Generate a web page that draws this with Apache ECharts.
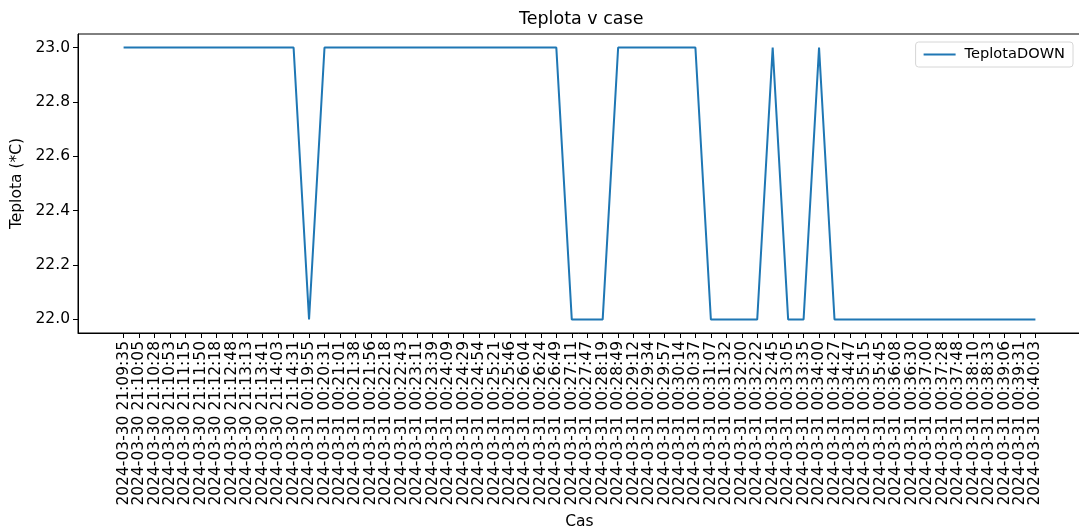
<!DOCTYPE html>
<html>
<head>
<meta charset="utf-8">
<title>Teplota v case</title>
<script src="https://cdn.jsdelivr.net/npm/echarts@6/dist/echarts.min.js"></script>
<style>
    html,body{margin:0;padding:0;background:#fff;overflow:hidden;}
    #teplota{width:1079px;height:532px;}
</style>
</head>
<body>
<div id="teplota"></div>
<script>
    // casy mereni (osa x)
    var casy = [
        '2024-03-30 21:09:35','2024-03-30 21:10:05','2024-03-30 21:10:28','2024-03-30 21:10:53',
        '2024-03-30 21:11:15','2024-03-30 21:11:50','2024-03-30 21:12:18','2024-03-30 21:12:48',
        '2024-03-30 21:13:13','2024-03-30 21:13:41','2024-03-30 21:14:03','2024-03-30 21:14:31',
        '2024-03-31 00:19:55','2024-03-31 00:20:31','2024-03-31 00:21:01','2024-03-31 00:21:38',
        '2024-03-31 00:21:56','2024-03-31 00:22:18','2024-03-31 00:22:43','2024-03-31 00:23:11',
        '2024-03-31 00:23:39','2024-03-31 00:24:09','2024-03-31 00:24:29','2024-03-31 00:24:54',
        '2024-03-31 00:25:21','2024-03-31 00:25:46','2024-03-31 00:26:04','2024-03-31 00:26:24',
        '2024-03-31 00:26:49','2024-03-31 00:27:11','2024-03-31 00:27:47','2024-03-31 00:28:19',
        '2024-03-31 00:28:49','2024-03-31 00:29:12','2024-03-31 00:29:34','2024-03-31 00:29:57',
        '2024-03-31 00:30:14','2024-03-31 00:30:37','2024-03-31 00:31:07','2024-03-31 00:31:32',
        '2024-03-31 00:32:00','2024-03-31 00:32:22','2024-03-31 00:32:45','2024-03-31 00:33:05',
        '2024-03-31 00:33:35','2024-03-31 00:34:00','2024-03-31 00:34:27','2024-03-31 00:34:47',
        '2024-03-31 00:35:15','2024-03-31 00:35:45','2024-03-31 00:36:08','2024-03-31 00:36:30',
        '2024-03-31 00:37:00','2024-03-31 00:37:28','2024-03-31 00:37:48','2024-03-31 00:38:10',
        '2024-03-31 00:38:33','2024-03-31 00:39:06','2024-03-31 00:39:31','2024-03-31 00:40:03'
    ];

    // TeplotaDOWN (*C)
    var teplotaDown = [
        23,23,23,23,23,23,23,23,23,23,23,23,
        22,23,23,23,23,23,23,23,23,23,23,23,23,23,23,23,23,
        22,22,22,
        23,23,23,23,23,23,
        22,22,22,22,
        23,
        22,22,
        23,
        22,22,22,22,22,22,22,22,22,22,22,22,22,22
    ];

    var yTicks = [22.0, 22.2, 22.4, 22.6, 22.8, 23.0];

    var font = 'DejaVu Sans';
    var xIdx = casy.map(function(c, i){ return i; });
    // prazdne popisky na krajich, aby echarts neschovaval sousedni popisky
    var xLabelVals = [-2].concat(xIdx, [61]);

    var chart = echarts.init(document.getElementById('teplota'));
    chart.setOption({
        animation: false,
        textStyle: {fontFamily: font},
        title: {
            text: 'Teplota v case',
            left: 514,
            top: 5,
            textStyle: {fontFamily: font, fontSize: 17.5, fontWeight: 'normal', color: '#000'}
        },
        legend: {
            right: 6,
            top: 42,
            padding: [5, 8],
            borderColor: '#d6d6d6',
            borderWidth: 1,
            borderRadius: 3,
            icon: 'rect',
            itemWidth: 32,
            itemHeight: 2,
            itemGap: 10,
            textStyle: {fontFamily: font, fontSize: 14.6, color: '#000', padding: [0, 0, 0, 4]},
            data: ['TeplotaDOWN']
        },
        grid: {
            left: 78,
            top: 34,
            width: 1003,
            height: 299,
            outerBoundsMode: 'none',
            show: true,
            borderColor: '#000',
            borderWidth: 1
        },
        xAxis: {
            type: 'value',
            min: -2.95,
            max: 61.95,
            name: 'Cas',
            nameLocation: 'middle',
            nameGap: 177,
            nameTextStyle: {fontFamily: font, fontSize: 15.5, color: '#000'},
            splitLine: {show: false},
            axisLine: {show: true, lineStyle: {color: '#000', width: 1}},
            axisTick: {show: true, length: 5, customValues: xIdx, lineStyle: {color: '#000', width: 1}},
            axisLabel: {
                customValues: xLabelVals,
                rotate: 90,
                margin: 8,
                hideOverlap: false,
                fontFamily: font,
                fontSize: 15.5,
                color: '#000',
                formatter: function(v){ return casy[Math.round(v)] || ''; }
            }
        },
        yAxis: {
            type: 'value',
            min: 21.95,
            max: 23.05,
            name: 'Teplota (*C)',
            nameLocation: 'middle',
            nameRotate: 90,
            nameGap: 52,
            nameTextStyle: {fontFamily: font, fontSize: 15.5, color: '#000'},
            splitLine: {show: false},
            axisLine: {show: true, onZero: false, lineStyle: {color: '#000', width: 1}},
            axisTick: {show: true, length: 5, customValues: yTicks, lineStyle: {color: '#000', width: 1}},
            axisLabel: {
                customValues: yTicks,
                margin: 8,
                showMinLabel: true,
                showMaxLabel: true,
                fontFamily: font,
                fontSize: 15.5,
                color: '#000',
                formatter: function(v){ return v.toFixed(1); }
            }
        },
        series: [{
            name: 'TeplotaDOWN',
            type: 'line',
            symbol: 'none',
            color: '#1f77b4',
            lineStyle: {width: 2},
            data: teplotaDown.map(function(t, i){ return [i, t]; })
        }]
    });
</script>
</body>
</html>
